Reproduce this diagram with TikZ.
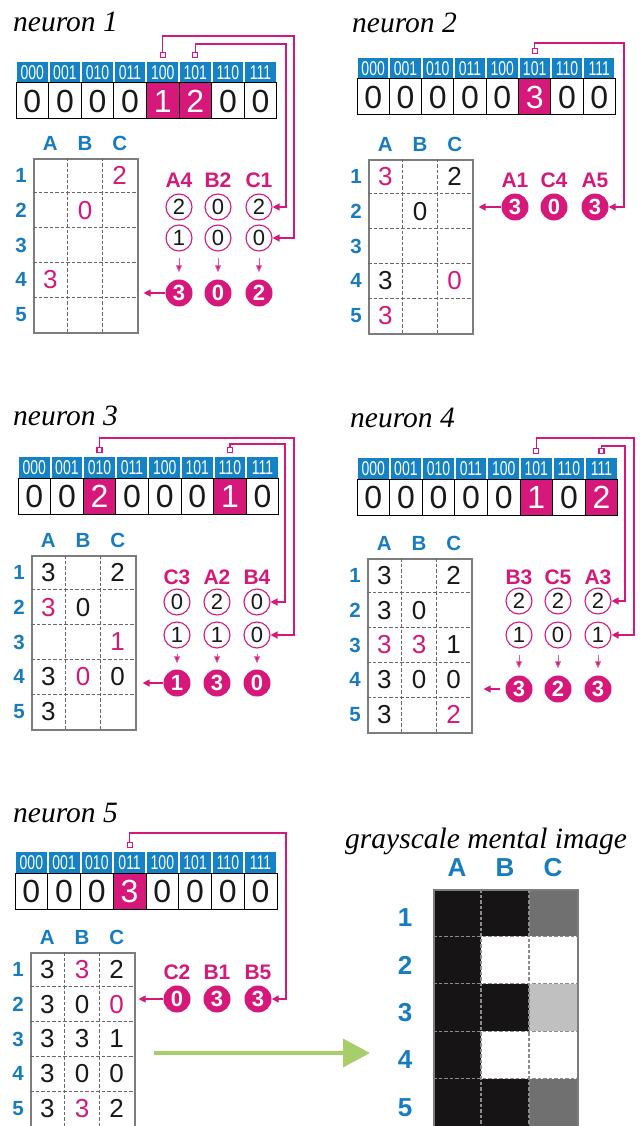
\documentclass[tikz,border=0pt]{standalone}
\usepackage{fontspec}
\usepackage{graphicx}
\setmainfont{Liberation Serif}
\setsansfont{Liberation Sans}
\usetikzlibrary{arrows.meta,calc}
\definecolor{hblue}{RGB}{22,130,198}
\definecolor{lblue}{RGB}{24,124,192}
\definecolor{mag}{RGB}{214,24,122}
\definecolor{ggray}{RGB}{125,125,125}
\definecolor{dgray}{RGB}{105,105,105}
\definecolor{agreen}{RGB}{168,206,108}
\definecolor{gblack}{RGB}{22,20,20}
\definecolor{gmid}{RGB}{112,112,112}
\definecolor{glight}{RGB}{192,192,192}
\definecolor{txtblack}{RGB}{25,25,25}
\newcommand{\hdrtxt}[1]{\scalebox{0.7}[1]{#1}}
\tikzset{
 title/.style={font=\fontsize{29.5}{30}\selectfont\itshape, anchor=base west, inner sep=0},
 hdrcell/.style={fill=hblue, text=white, minimum height=21pt, inner sep=0, font=\sffamily\fontsize{20}{20}\selectfont},
 valcell/.style={draw=black, line width=1pt, minimum height=36pt, inner sep=0, text=txtblack, font=\sffamily\fontsize{32}{32}\selectfont},
 gnum/.style={font=\sffamily\fontsize{26}{26}\selectfont, inner sep=0},
 glab/.style={text=lblue, font=\sffamily\bfseries\fontsize{20.5}{20}\selectfont, inner sep=0},
 biglab/.style={text=lblue, font=\sffamily\bfseries\fontsize{26}{26}\selectfont, inner sep=0},
 clab/.style={text=mag, font=\sffamily\bfseries\fontsize{21}{21}\selectfont, inner sep=0},
 ocirc/.style={circle, draw=mag, line width=1.1pt, minimum size=26pt, inner sep=0, text=txtblack, font=\sffamily\fontsize{22}{22}\selectfont},
 fcirc/.style={circle, fill=mag, text=white, minimum size=27pt, inner sep=0, font=\sffamily\bfseries\fontsize{22}{22}\selectfont},
 tosum/.style={draw=mag, line width=1.3pt, -{Triangle[length=7pt,width=7pt]}},
 down/.style={draw=mag!70, line width=0.8pt, -{Triangle[length=7pt,width=6pt,fill=mag]}},
 tap/.style={draw=mag, fill=white, line width=1.1pt, minimum size=5pt, inner sep=0},
 gridframe/.style={draw=ggray, line width=1.6pt, inner sep=0},
 gdash/.style={draw=dgray, line width=1.2pt, dash pattern=on 3.5pt off 2pt},
 graydash/.style={draw=black!45, line width=1.2pt, dash pattern=on 3.5pt off 2pt},
}
% register: prefix, x0, ytop, cellw, values
\newcommand{\reg}[5]{%
  \foreach \b [count=\i from 0] in {000,001,010,011,100,101,110,111}
    \node[hdrcell, minimum width=#4pt-2pt] (#1h\i) at ({#2+(\i+0.5)*#4}, {#3+10.5}) {\hdrtxt{\b}};
  \foreach \v [count=\i from 0] in {#5} {
    \ifnum\v>0
      \node[valcell, minimum width=#4pt, fill=mag, text=white] (#1v\i) at ({#2+(\i+0.5)*#4}, {#3+39}) {\v};
    \else
      \node[valcell, minimum width=#4pt] (#1v\i) at ({#2+(\i+0.5)*#4}, {#3+39}) {\v};
    \fi
  }
}
% grid: prefix, x0, y0, contents c/r/d/colour
\newcommand{\grid}[4]{%
  \node[gridframe, minimum width=104pt, minimum height=174pt, anchor=north west] (#1g) at (#2,#3) {};
  \foreach \k in {1,2} \draw[gdash] ({#2+\k*34.67}, #3) -- ({#2+\k*34.67}, {#3+174});
  \foreach \k in {1,...,4} \draw[gdash] (#2, {#3+\k*34.8}) -- ({#2+104}, {#3+\k*34.8});
  \foreach \l [count=\k from 0] in {A,B,C} \node[glab] (#1col\l) at ({#2+(\k+0.5)*34.67}, {#3-15}) {\l};
  \foreach \r in {1,...,5} \node[glab] (#1row\r) at ({#2-12}, {#3+(\r-0.5)*34.8}) {\r};
  \foreach \c/\r/\d/\cl in {#4} \node[gnum, text=\cl] (#1c\c\r) at ({#2+(\c+0.5)*34.67}, {#3+(\r-0.5)*34.8}) {\d};
}
\begin{document}
\begin{tikzpicture}[x=1pt,y=-1pt]
\fill[white] (0,0) rectangle (640,1126);
\useasboundingbox (0,0) rectangle (640,1126);

% ---------------- neuron 1
\node[title] (t1) at (13,32) {neuron 1};
\reg{n1}{16}{62}{32.6}{0,0,0,0,1,2,0,0}
\grid{n1}{33}{158}{2/1/2/mag, 1/2/0/mag, 0/4/3/mag}
\node[clab] (n1la) at (179,180) {A4};
\node[clab] (n1lb) at (218,180) {B2};
\node[clab] (n1lc) at (259,180) {C1};
\node[ocirc] (n1pa) at (179,207) {2};
\node[ocirc] (n1pb) at (218,207) {0};
\node[ocirc] (n1pc) at (259,207) {2};
\node[ocirc] (n1qa) at (179,238) {1};
\node[ocirc] (n1qb) at (218,238) {0};
\node[ocirc] (n1qc) at (259,238) {0};
\node[fcirc] (n1fa) at (179,293) {3};
\node[fcirc] (n1fb) at (218,293) {0};
\node[fcirc] (n1fc) at (259,293) {2};
\foreach \k in {a,b,c} \draw[down] ([yshift=-6pt]n1q\k.south) -- ([yshift=7pt]n1f\k.north);
\draw[tosum] (n1fa.west) -- ($(n1g.east |- n1fa.west)+(5,0)$);
\node[tap] (n1t4) at ($(n1h4.north)+(0,-7)$) {};
\node[tap] (n1t5) at ($(n1h5.north)+(0,-7)$) {};
\draw[tosum] (n1t4.north) |- (294,36) |- (n1qc.east);
\draw[tosum] (n1t5.north) |- (286,44) |- (n1pc.east);

% ---------------- neuron 2
\node[title] (t2) at (352,33) {neuron 2};
\reg{n2}{357}{58}{32.3}{0,0,0,0,0,3,0,0}
\grid{n2}{368}{159}{0/1/3/mag, 2/1/2/txtblack, 1/2/0/txtblack, 0/4/3/txtblack, 2/4/0/mag, 0/5/3/mag}
\node[clab] (n2la) at (515,180) {A1};
\node[clab] (n2lb) at (554,180) {C4};
\node[clab] (n2lc) at (595,180) {A5};
\node[fcirc] (n2fa) at (515,207) {3};
\node[fcirc] (n2fb) at (554,207) {0};
\node[fcirc] (n2fc) at (595,207) {3};
\draw[tosum] (n2fa.west) -- ($(n2g.east |- n2fa.west)+(5,0)$);
\node[tap] (n2t5) at ($(n2h5.north)+(0,-7)$) {};
\draw[tosum] (n2t5.north) |- (624,43) |- (n2fc.east);

% ---------------- neuron 3
\node[title] (t3) at (13,425) {neuron 3};
\reg{n3}{18}{457}{32.6}{0,0,2,0,0,0,1,0}
\grid{n3}{31}{555}{0/1/3/txtblack, 2/1/2/txtblack, 0/2/3/mag, 1/2/0/txtblack, 2/3/1/mag, 0/4/3/txtblack, 1/4/0/mag, 2/4/0/txtblack, 0/5/3/txtblack}
\node[clab] (n3la) at (177,577) {C3};
\node[clab] (n3lb) at (217,577) {A2};
\node[clab] (n3lc) at (257,577) {B4};
\node[ocirc] (n3pa) at (177,602) {0};
\node[ocirc] (n3pb) at (217,602) {2};
\node[ocirc] (n3pc) at (257,602) {0};
\node[ocirc] (n3qa) at (177,635) {1};
\node[ocirc] (n3qb) at (217,635) {1};
\node[ocirc] (n3qc) at (257,635) {0};
\node[fcirc] (n3fa) at (177,683) {1};
\node[fcirc] (n3fb) at (217,683) {3};
\node[fcirc] (n3fc) at (257,683) {0};
\foreach \k in {a,b,c} \draw[down] ([yshift=-5pt]n3q\k.south) -- ([yshift=6pt]n3f\k.north);
\draw[tosum] (n3fa.west) -- ($(n3g.east |- n3fa.west)+(6,0)$);
\node[tap] (n3t2) at ($(n3h2.north)+(0,-7)$) {};
\node[tap] (n3t6) at ($(n3h6.north)+(0,-7)$) {};
\draw[tosum] (n3t2.north) |- (294,438) |- (n3qc.east);
\draw[tosum] (n3t6.north) |- (285,444) |- (n3pc.east);

% ---------------- neuron 4
\node[title] (t4) at (350,427) {neuron 4};
\reg{n4}{357}{458}{32.6}{0,0,0,0,0,1,0,2}
\grid{n4}{367}{558}{0/1/3/txtblack, 2/1/2/txtblack, 0/2/3/txtblack, 1/2/0/txtblack, 0/3/3/mag, 1/3/3/mag, 2/3/1/txtblack, 0/4/3/txtblack, 1/4/0/txtblack, 2/4/0/txtblack, 0/5/3/txtblack, 2/5/2/mag}
\node[clab] (n4la) at (519,577) {B3};
\node[clab] (n4lb) at (558,577) {C5};
\node[clab] (n4lc) at (598,577) {A3};
\node[ocirc] (n4pa) at (519,601) {2};
\node[ocirc] (n4pb) at (558,601) {2};
\node[ocirc] (n4pc) at (598,601) {2};
\node[ocirc] (n4qa) at (519,635) {1};
\node[ocirc] (n4qb) at (558,635) {0};
\node[ocirc] (n4qc) at (598,635) {1};
\node[fcirc] (n4fa) at (519,689) {3};
\node[fcirc] (n4fb) at (558,689) {2};
\node[fcirc] (n4fc) at (598,689) {3};
\foreach \k in {a,b,c} \draw[down] ([yshift=-6pt]n4q\k.south) -- ([yshift=7pt]n4f\k.north);
\draw[tosum, shorten <=5pt] (n4fa.west) -- ($(n4g.east |- n4fa.west)+(11,0)$);
\node[tap] (n4t5) at ($(n4h5.north)+(0,-7)$) {};
\node[tap] (n4t7) at ($(n4h7.north)+(0,-7)$) {};
\draw[tosum] (n4t5.north) |- (634,438) |- (n4qc.east);
\draw[tosum] (n4t7.north) |- (625,446) |- (n4pc.east);

% ---------------- neuron 5
\node[title] (t5) at (13,822) {neuron 5};
\reg{n5}{15}{852}{32.75}{0,0,0,3,0,0,0,0}
\grid{n5}{30}{952}{0/1/3/txtblack, 1/1/3/mag, 2/1/2/txtblack, 0/2/3/txtblack, 1/2/0/txtblack, 2/2/0/mag, 0/3/3/txtblack, 1/3/3/txtblack, 2/3/1/txtblack, 0/4/3/txtblack, 1/4/0/txtblack, 2/4/0/txtblack, 0/5/3/txtblack, 1/5/3/mag, 2/5/2/txtblack}
\node[clab] (n5la) at (177,972) {C2};
\node[clab] (n5lb) at (217,972) {B1};
\node[clab] (n5lc) at (258,972) {B5};
\node[fcirc] (n5fa) at (177,999) {0};
\node[fcirc] (n5fb) at (217,999) {3};
\node[fcirc] (n5fc) at (258,999) {3};
\draw[tosum] (n5fa.west) -- ($(n5g.east |- n5fa.west)+(3,0)$);
\node[tap] (n5t3) at ($(n5h3.north)+(0,-7)$) {};
\draw[tosum] (n5t3.north) |- (286,833) |- (n5fc.east);

% ---------------- green arrow
\coordinate (gs) at (154,1053);
\coordinate (ge) at (370,1053);
\draw[agreen, line width=3.5pt, -{Triangle[length=27pt,width=28pt]}] (gs) -- (ge);

% ---------------- grayscale mental image
\node[title] (t6) at (345,848) {grayscale mental image};
\foreach \c/\r/\cl in {0/1/gblack,1/1/gblack,2/1/gmid,
                       0/2/gblack,1/2/white,2/2/white,
                       0/3/gblack,1/3/gblack,2/3/glight,
                       0/4/gblack,1/4/white,2/4/white,
                       0/5/gblack,1/5/gblack,2/5/gmid}
  \fill[\cl] ({433+\c*48}, {889+(\r-1)*47.4}) rectangle ({433+(\c+1)*48}, {889+\r*47.4});
\foreach \k in {1,2} \draw[graydash] ({433+\k*48}, 889) -- ({433+\k*48}, 1126);
\foreach \k in {1,...,4} \draw[graydash] (433, {889+\k*47.4}) -- (577, {889+\k*47.4});
\node[draw=ggray, line width=1.6pt, minimum width=144pt, minimum height=237pt, inner sep=0, anchor=north west] (gg) at (433,889) {};
\foreach \l [count=\k from 0] in {A,B,C} \node[biglab] (ggcol\l) at ({433+(\k+0.5)*48}, 868) {\l};
\foreach \r in {1,...,5} \node[biglab] (ggrow\r) at (405, {889+(\r-0.5)*47.4+5}) {\r};
\end{tikzpicture}
\end{document}
